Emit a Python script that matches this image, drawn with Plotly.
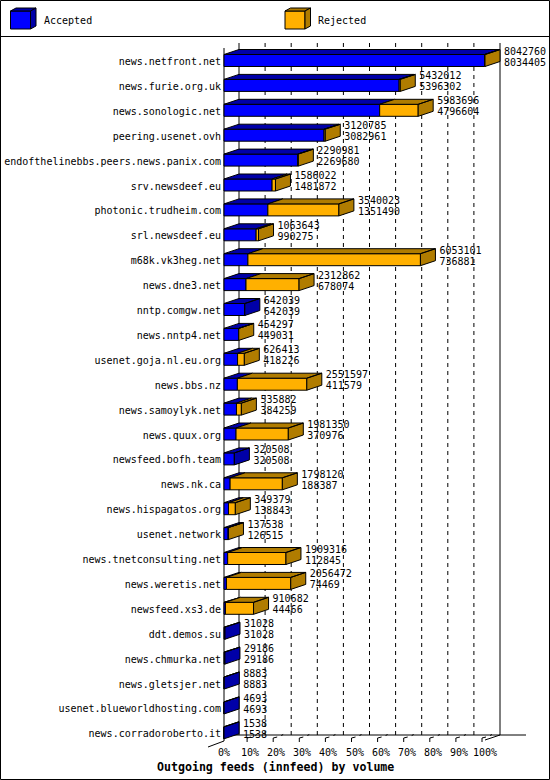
import plotly.graph_objects as go

# innfeed outgoing volume per peer: top number = offered, bottom = accepted
hosts = [
    "news.netfront.net", "news.furie.org.uk", "news.sonologic.net", "peering.usenet.ovh",
    "endofthelinebbs.peers.news.panix.com", "srv.newsdeef.eu", "photonic.trudheim.com",
    "srl.newsdeef.eu", "m68k.vk3heg.net", "news.dne3.net", "nntp.comgw.net", "news.nntp4.net",
    "usenet.goja.nl.eu.org", "news.bbs.nz", "news.samoylyk.net", "news.quux.org",
    "newsfeed.bofh.team", "news.nk.ca", "news.hispagatos.org", "usenet.network",
    "news.tnetconsulting.net", "news.weretis.net", "newsfeed.xs3.de", "ddt.demos.su",
    "news.chmurka.net", "news.gletsjer.net", "usenet.blueworldhosting.com", "news.corradoroberto.it",
]
offered = [
    8042760, 5432012, 5983696, 3120785, 2290981, 1586022, 3540023, 1063643, 6053101, 2312862,
    642039, 454297, 626413, 2551597, 535882, 1981350, 320508, 1798120, 349379, 137538,
    1909316, 2056472, 910682, 31028, 29186, 8883, 4693, 1538,
]
accepted = [
    8034405, 5396302, 4796604, 3082961, 2269680, 1481872, 1351490, 990275, 736881, 678074,
    642039, 449031, 418226, 411579, 384259, 370976, 320508, 188387, 138843, 126515,
    112845, 74469, 44466, 31028, 29186, 8883, 4693, 1538,
]
rejected = [o - a for o, a in zip(offered, accepted)]
pct_ticks = [0, 10, 20, 30, 40, 50, 60, 70, 80, 90, 100]

BLUE, BLUE_D = "#0000ff", "#0000a8"
ORANGE, ORANGE_D = "#ffb000", "#b07c00"
FONT = "DejaVu Sans Mono"

# page geometry (pixels)
W, H = 550, 780
X0, XW = 224, 261        # 0% position and 100% length of the front plane
Y0, S = 60.5, 24.9       # first row centre and row pitch
BAR_H = 12
DEP_X, DEP_Y = 15, 5     # 3d depth

vmax = max(offered)
u = vmax / XW


def px(p):
    return (p - X0) * u


def py(p):
    return (p - Y0) / S


dx = DEP_X * u
dy = DEP_Y / S
hh = BAR_H / S / 2
rows = list(range(len(hosts)))

fig = go.Figure()
fig.add_trace(go.Bar(y=rows, x=accepted, base=[0] * len(rows), orientation="h",
                     width=BAR_H / S, marker=dict(color=BLUE, line=dict(color="black", width=1)),
                     hoverinfo="skip"))
fig.add_trace(go.Bar(y=rows, x=rejected, base=accepted, orientation="h",
                     width=BAR_H / S, marker=dict(color=ORANGE, line=dict(color="black", width=1)),
                     hoverinfo="skip"))

# top and side faces of the 3d bars
faces = {BLUE_D: ([], []), ORANGE_D: ([], [])}
for i in rows:
    a, o = accepted[i], offered[i]
    yt, yb = i - hh, i + hh
    for x0, x1, col in [(0, a, BLUE_D), (a, o, ORANGE_D)]:
        if x1 > x0:
            xs, ys = faces[col]
            xs += [x0, x0 + dx, x1 + dx, x1, x0, None]
            ys += [yt, yt - dy, yt - dy, yt, yt, None]
    col = ORANGE_D if rejected[i] > 0 else BLUE_D
    xs, ys = faces[col]
    xs += [o, o + dx, o + dx, o, o, None]
    ys += [yt, yt - dy, yb - dy, yb, yt, None]
for col, (xs, ys) in faces.items():
    fig.add_trace(go.Scatter(x=xs, y=ys, mode="lines", fill="toself", fillcolor=col,
                             line=dict(color="black", width=1), hoverinfo="skip"))

# host names and values
fig.add_trace(go.Scatter(x=[px(221)] * len(rows), y=[i + 2 / S for i in rows], mode="text",
                         text=hosts, textposition="middle left",
                         textfont=dict(family=FONT, size=10, color="black"), hoverinfo="skip"))
fig.add_trace(go.Scatter(x=[o + dx + 4 * u for o in offered], y=[i - 8.5 / S for i in rows],
                         mode="text", text=[str(v) for v in offered], textposition="middle right",
                         textfont=dict(family=FONT, size=10, color="black"), hoverinfo="skip"))
fig.add_trace(go.Scatter(x=[o + dx + 4 * u for o in offered], y=[i + 2.5 / S for i in rows],
                         mode="text", text=[str(v) for v in accepted], textposition="middle right",
                         textfont=dict(family=FONT, size=10, color="black"), hoverinfo="skip"))

shapes = []


def line(x0, y0, x1, y1, dash="solid", layer="above"):
    shapes.append(dict(type="line", xref="x", yref="y", x0=x0, y0=y0, x1=x1, y1=y1,
                       line=dict(color="black", width=1, dash=dash), layer=layer))


# back wall grid
for k in pct_ticks:
    xv = k / 100 * vmax + dx
    line(xv, py(43), xv, py(735), "solid" if k in (0, 100) else "4px,4px", "below")
line(0, py(48), 0, py(741), layer="below")
line(px(224), py(735), px(526), py(735), layer="below")
line(px(208), py(747), 0, py(741), layer="below")
line(vmax, py(740), vmax + dx, py(735), layer="below")
for k in pct_ticks[1:]:
    xv = k / 100 * vmax
    line(xv - 3 * u, py(742), xv - 3 * u, py(738))
    line(xv - 3 * u, py(738), xv + 1 * u, py(737))
    line(xv + 5 * u, py(735.5), xv + 7 * u, py(734.5))

# frame and legend separator
shapes.append(dict(type="rect", xref="x", yref="y", x0=px(0.5), x1=px(549.5), y0=py(0.5), y1=py(779.5),
                   line=dict(color="black", width=1)))
line(px(0), py(36.5), px(550), py(36.5))


def path(pts):
    return "M " + " L ".join(f"{px(a)},{py(b)}" for a, b in pts) + " Z"


annotations = []
for lx, front, dark, name in [(10.5, BLUE, BLUE_D, "Accepted"), (285, ORANGE, ORANGE_D, "Rejected")]:
    r = lx + 20
    for pts, col in [([(lx, 11), (r, 11), (r, 29), (lx, 29)], front),
                     ([(lx, 11), (lx + 5.5, 8), (r + 5.5, 8), (r, 11)], dark),
                     ([(r, 11), (r + 5.5, 8), (r + 5.5, 26), (r, 29)], dark)]:
        shapes.append(dict(type="path", xref="x", yref="y", path=path(pts), fillcolor=col,
                           line=dict(color="black", width=1)))
    annotations.append(dict(x=px(lx + 31), y=py(20), xref="x", yref="y", text=name, showarrow=False,
                            xanchor="left", font=dict(family=FONT, size=10, color="black")))

for k in pct_ticks:
    annotations.append(dict(x=k / 100 * vmax, y=py(752.5), xref="x", yref="y", text=f"{k}%",
                            showarrow=False, font=dict(family=FONT, size=10, color="black")))
annotations.append(dict(x=px(275), y=py(767), xref="x", yref="y",
                        text="<b>Outgoing feeds (innfeed) by volume</b>", showarrow=False,
                        font=dict(family=FONT, size=11.6, color="black")))

fig.update_layout(
    width=W, height=H, margin=dict(l=0, r=0, t=0, b=0),
    paper_bgcolor="white", plot_bgcolor="white", showlegend=False, barmode="overlay",
    xaxis=dict(range=[px(0), px(W)], visible=False, fixedrange=True),
    yaxis=dict(range=[py(H), py(0)], visible=False, fixedrange=True),
    shapes=shapes, annotations=annotations,
)
fig.write_html("out.html", config={"displayModeBar": False},
               post_script="document.body.style.margin='0';document.body.style.overflow='hidden';")
